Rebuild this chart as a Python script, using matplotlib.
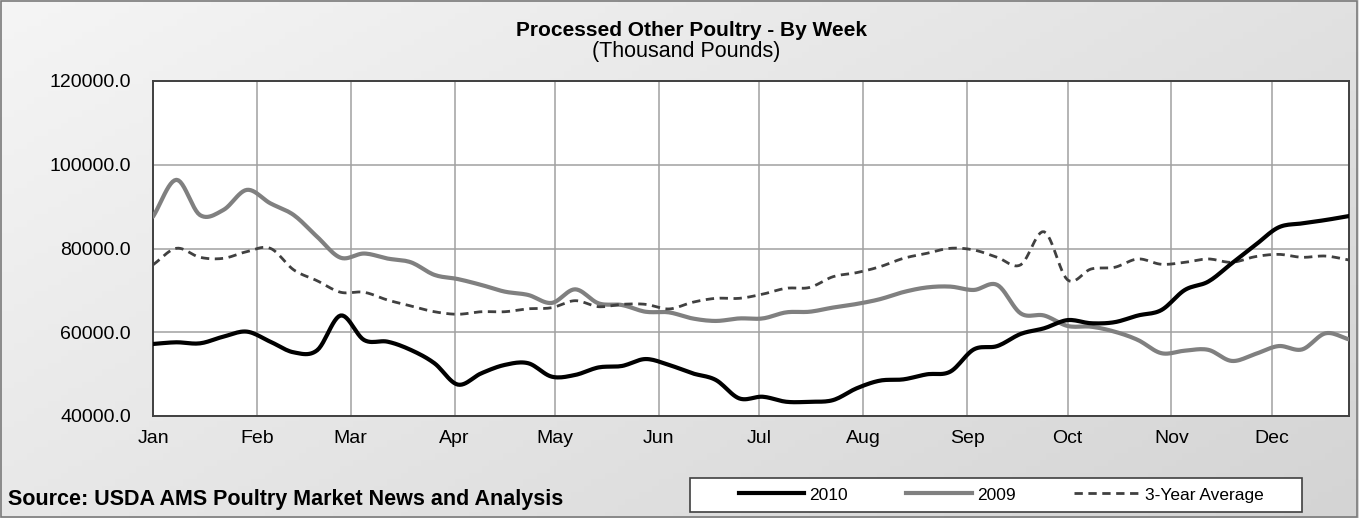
import numpy as np
import matplotlib
matplotlib.use("Agg")
import matplotlib.pyplot as plt
from matplotlib.lines import Line2D
from matplotlib.patches import Rectangle

plt.rcParams['font.family'] = ['Liberation Sans', 'DejaVu Sans']

# ---- data ----
weeks = list(range(1, 53))
months = ["Jan", "Feb", "Mar", "Apr", "May", "Jun",
          "Jul", "Aug", "Sep", "Oct", "Nov", "Dec"]
month_start_days = [0, 31, 59, 90, 120, 151, 181, 212, 243, 273, 304, 334]

y2010 = [57200, 57600, 57350, 58950, 60150, 57750, 55200, 55700, 64000, 58150,
         57750, 55760, 52600, 47500, 50200, 52200, 52600, 49400, 49800, 51600,
         51950, 53600, 52200, 50200, 48600, 44200, 44600, 43400, 43400, 43800,
         46600, 48450, 48750, 49950, 50600, 55900, 56700, 59600, 60950, 62900,
         62150, 62400, 64000, 65300, 70100, 72100, 76450, 80800, 85050, 86000,
         86800, 87750]
y2009 = [87600, 96400, 88000, 89200, 94000, 90800, 88000, 82800, 77800, 78800,
         77600, 76700, 73700, 72700, 71300, 69700, 68900, 67000, 70250, 66900,
         66500, 64900, 64750, 63300, 62700, 63300, 63300, 64750, 64900, 65900,
         66750, 67900, 69600, 70700, 70900, 70100, 71300, 64500, 64000, 61500,
         61330, 60150, 58150, 55000, 55600, 55800, 53150, 54800, 56700, 55900,
         59750, 58300]
avg3 = [76100, 80050, 77900, 77650, 79250, 80050, 74900, 72300, 69550, 69550,
        67700, 66270, 64900, 64300, 64900, 64900, 65600, 65860, 67540, 66100,
        66670, 66670, 65560, 67150, 68100, 68100, 69100, 70500, 70700, 73270,
        74230, 75650, 77650, 78850, 80050, 79650, 77900, 76100, 84000, 72500,
        75100, 75500, 77500, 76230, 76700, 77500, 76700, 78050, 78600, 77900,
        78200, 77250]
yticks = [40000, 60000, 80000, 100000, 120000]
series_names = ["2010", "2009", "3-Year Average"]


def smooth(x, y, n=12):
    """Catmull-Rom smoothing (like Excel 'smoothed line')."""
    P = np.column_stack([np.asarray(x, float), np.asarray(y, float)])
    P = np.vstack([2 * P[0] - P[1], P, 2 * P[-1] - P[-2]])
    t = np.linspace(0, 1, n, endpoint=False)[:, None]
    out = []
    for i in range(1, len(P) - 2):
        p0, p1, p2, p3 = P[i - 1], P[i], P[i + 1], P[i + 2]
        seg = 0.5 * ((2 * p1) + (-p0 + p2) * t
                     + (2 * p0 - 5 * p1 + 4 * p2 - p3) * t ** 2
                     + (-p0 + 3 * p1 - 3 * p2 + p3) * t ** 3)
        out.append(seg)
    out.append(P[-2][None, :])
    r = np.vstack(out)
    return r[:, 0], r[:, 1]


W, H = 1359, 518
fig = plt.figure(figsize=(W / 100, H / 100), dpi=100)

# gradient background
bg = fig.add_axes([0, 0, 1, 1], zorder=-10)
gx, gy = np.meshgrid(np.linspace(0, 1, 200), np.linspace(0, 1, 80))
g = 0.6 * gx + 0.4 * gy
c0, c1 = 245 / 255, 212 / 255
img = c0 + (c1 - c0) * g
bg.imshow(np.dstack([img, img, img]), aspect='auto', extent=[0, 1, 0, 1],
          origin='upper')
bg.set_xlim(0, 1)
bg.set_ylim(0, 1)
bg.axis('off')
fig.patches.append(Rectangle((0.0005, 0.001), 0.998, 0.997, transform=fig.transFigure,
                             fill=False, edgecolor='#7a7a7a', lw=1.2))

left, right = 153 / W, 1349 / W
bottom, top = 1 - 416 / H, 1 - 81 / H
ax = fig.add_axes([left, bottom, right - left, top - bottom])
ax.set_facecolor('white')

days = [(w - 1) * 7 for w in weeks]

xs, ys = smooth(days, y2009)
ax.plot(xs, ys, color='#808080', lw=3.0, solid_capstyle='round', zorder=3)
xs, ys = smooth(days, avg3)
ax.plot(xs, ys, color='#404040', lw=2.0, dashes=(3, 2), zorder=4)
xs, ys = smooth(days, y2010)
ax.plot(xs, ys, color='black', lw=3.0, solid_capstyle='round', zorder=5)

ax.set_xlim(days[0], days[-1])
ax.set_ylim(yticks[0], yticks[-1])
ax.set_yticks(yticks)
ax.set_yticklabels([f"{v:.1f}" for v in yticks])
ax.set_xticks(month_start_days)
ax.set_xticklabels(months)
ax.tick_params(axis='y', length=0, pad=16, labelsize=14)
ax.tick_params(axis='x', length=0, pad=10, labelsize=14)
ax.grid(True, color='#a0a0a0', lw=1.1, zorder=0)
ax.set_axisbelow(True)
for s in ax.spines.values():
    s.set_color('#404040')
    s.set_linewidth(1.4)

fig.text(692 / W, 1 - 30 / H, "Processed Other Poultry - By Week",
         ha='center', va='center', fontsize=15, fontweight='bold')
fig.text(686 / W, 1 - 52 / H, "(Thousand Pounds)",
         ha='center', va='center', fontsize=15.5)
fig.text(8 / W, 1 - 500 / H, "Source: USDA AMS Poultry Market News and Analysis",
         ha='left', va='center', fontsize=15.5, fontweight='bold')

# legend box
lx0, lx1, ly0, ly1 = 690, 1302, 478, 512
fig.patches.append(Rectangle((lx0 / W, 1 - ly1 / H), (lx1 - lx0) / W, (ly1 - ly0) / H,
                             transform=fig.transFigure, facecolor='white',
                             edgecolor='#404040', lw=1.2, zorder=1))
handles = [Line2D([], [], color='black', lw=3.0),
           Line2D([], [], color='#808080', lw=3.0),
           Line2D([], [], color='#404040', lw=2.0, dashes=(3, 2))]
leg = fig.legend(handles, series_names, loc='center',
                 bbox_to_anchor=(1001 / W, 1 - (ly0 + ly1) / 2 / H),
                 ncol=3, frameon=False, fontsize=12.5, handlelength=3.8,
                 handletextpad=0.25, columnspacing=3.4)
leg.set_zorder(5)

fig.savefig("out.png", dpi=100)
